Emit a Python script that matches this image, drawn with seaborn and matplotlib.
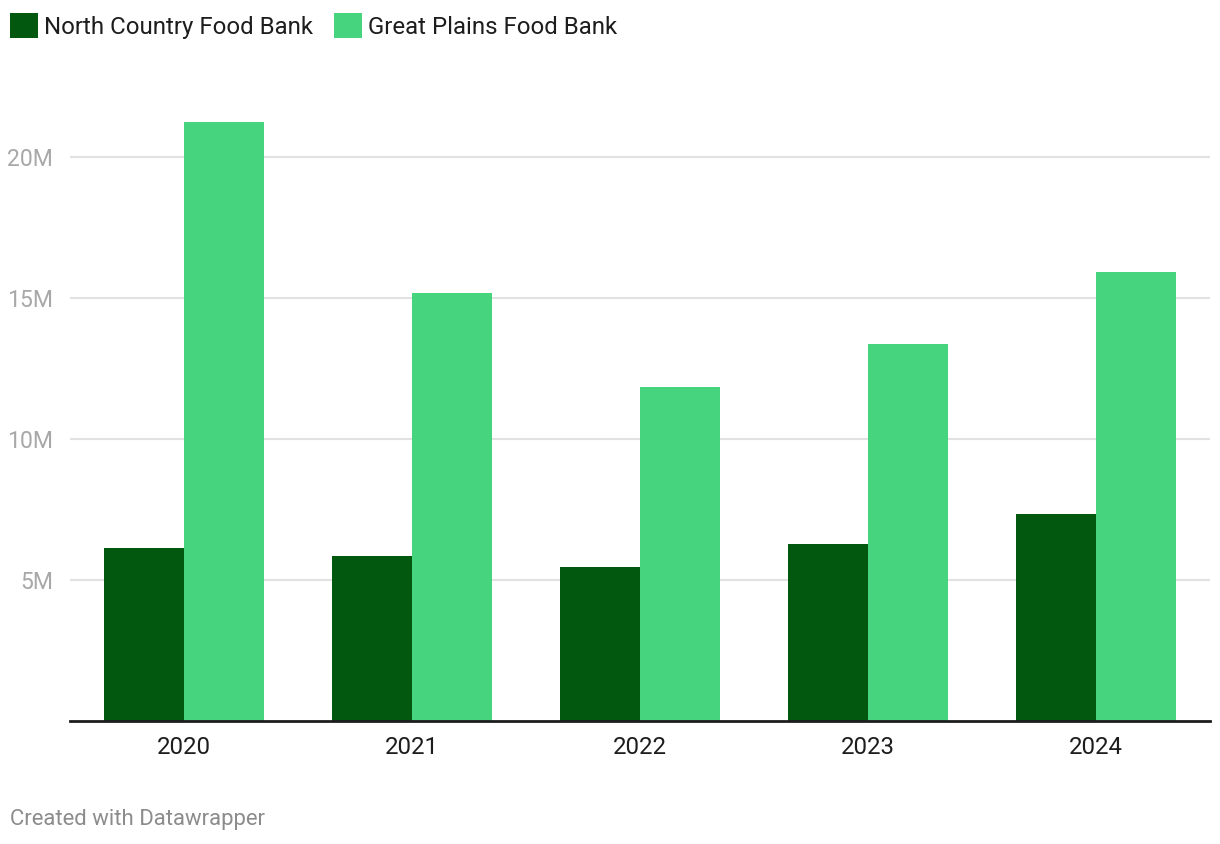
import pandas as pd
import seaborn as sns
import matplotlib.pyplot as plt
from matplotlib.ticker import FuncFormatter

years = ["2020", "2021", "2022", "2023", "2024"]
north_country = [6.13, 5.85, 5.46, 6.28, 7.34]   # millions
great_plains = [21.24, 15.18, 11.84, 13.37, 15.92]
series = ["North Country Food Bank", "Great Plains Food Bank"]
colors = ["#01580e", "#47d47f"]

df = pd.DataFrame({
    "Year": years * 2,
    "Value": north_country + great_plains,
    "Bank": [series[0]] * len(years) + [series[1]] * len(years),
})

sns.set_style("white")
plt.rcParams["font.family"] = ["Roboto", "DejaVu Sans"]

W, H = 1220, 844
fig = plt.figure(figsize=(W / 100, H / 100), dpi=100)
ax = fig.add_axes([70 / W, (H - 721) / H, 1140 / W, (721 - 100.6) / H])

sns.barplot(data=df, x="Year", y="Value", hue="Bank", palette=colors,
            width=0.7, gap=0, saturation=1, linewidth=0, ax=ax, legend=True,
            zorder=3)

ax.set_xlim(-0.5, 4.5)
ax.set_ylim(0, 22)
ax.set_yticks([5, 10, 15, 20])
ax.yaxis.set_major_formatter(FuncFormatter(lambda v, p: f"{int(v)}M"))
ax.grid(axis="y", color="#e2e2e2", linewidth=1.5, zorder=0)
ax.set_axisbelow(True)
for s in ["top", "right", "left"]:
    ax.spines[s].set_visible(False)
ax.spines["bottom"].set_color("#1d1d1d")
ax.spines["bottom"].set_linewidth(2)
ax.spines["bottom"].set_zorder(5)
ax.tick_params(axis="y", length=0, pad=12, labelsize=16.6, labelcolor="#a8a8a8")
ax.tick_params(axis="x", length=0, pad=11, labelsize=17.3, labelcolor="#1d1d1d")
ax.set_xlabel("")
ax.set_ylabel("")

handles, labels = ax.get_legend_handles_labels()
ax.get_legend().remove()
fig.legend(handles, labels, loc="upper left", bbox_to_anchor=(10 / W, 1 - 13 / H),
           ncol=2, frameon=False, fontsize=17.3, handlelength=1.17,
           handleheight=1.25, handletextpad=0.25, columnspacing=0.85,
           labelcolor="#1d1d1d", borderaxespad=0, borderpad=0)

fig.text(10 / W, 1 - 819 / H, "Created with Datawrapper", fontsize=15.9,
         color="#8c8c8c", va="center", ha="left")

fig.savefig("out.png", dpi=100)
